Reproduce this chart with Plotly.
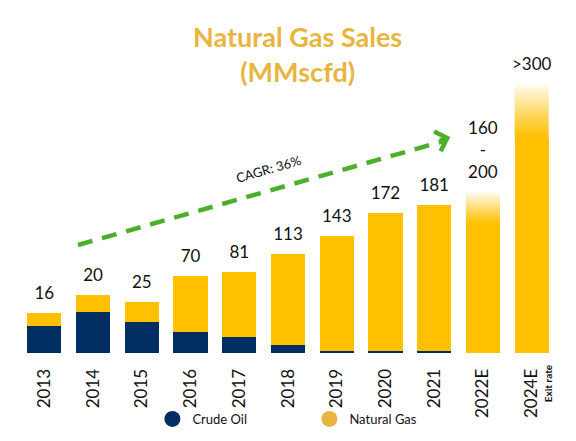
import plotly.graph_objects as go

# categories and labels as printed on the slide
years = ['2013', '2014', '2015', '2016', '2017', '2018', '2019', '2020', '2021', '2022E', '2024E']
labels = ['16', '20', '25', '70', '81', '113', '143', '172', '181', '160<br>-<br>200', '>300']

# drawn bar heights (the slide is not to scale, so these are read off the picture)
oil = [27, 41, 31, 21, 16, 8, 2, 2, 2, 0, 0]
gas = [13, 17, 20, 56, 65, 91, 115, 138, 146, 129, 215]
guidance = [0, 0, 0, 0, 0, 0, 0, 0, 0, 32, 54]   # faded range on top of the estimates

GOLD = '#FFC000'
NAVY = '#002D62'
GREEN = '#4CAF2A'
FONT = 'Lato'
BW = 0.7

xs = list(range(len(years)))
fig = go.Figure()

fig.add_trace(go.Bar(x=xs, y=oil, width=BW, marker_color=NAVY, marker_line_width=0,
                     name='Crude Oil', showlegend=False))
fig.add_trace(go.Bar(x=xs, y=gas, width=BW, marker_color=GOLD, marker_line_width=0,
                     name='Natural Gas', showlegend=False))

# faded guidance boxes for the estimate years
for i, g in enumerate(guidance):
    if g == 0:
        continue
    base = oil[i] + gas[i]
    fig.add_trace(go.Scatter(
        x=[i - BW / 2, i + BW / 2, i + BW / 2, i - BW / 2, i - BW / 2],
        y=[base, base, base + g, base + g, base],
        mode='lines', line_width=0, fill='toself',
        fillgradient=dict(type='vertical',
                          colorscale=[[0, GOLD], [0.35, '#FFD24D'], [1, '#FFFCF2']]),
        hoverinfo='skip', showlegend=False))

# value labels
tops = [o + g + r for o, g, r in zip(oil, gas, guidance)]
fig.add_trace(go.Scatter(x=xs, y=tops, mode='markers+text', text=labels,
                         textposition='top center',
                         marker=dict(size=14, color='rgba(0,0,0,0)'),
                         textfont=dict(family=FONT, size=17, color='#111111'),
                         hoverinfo='skip', showlegend=False, cliponaxis=False))

# legend entries (round markers like the slide)
fig.add_trace(go.Scatter(x=[None], y=[None], mode='markers', name='Crude Oil',
                         marker=dict(symbol='circle', size=16, color=NAVY)))
fig.add_trace(go.Scatter(x=[None], y=[None], mode='markers', name='Natural Gas',
                         marker=dict(symbol='circle', size=16, color='#E8B53F')))

# CAGR arrow
fig.add_shape(type='line', x0=0.69, y0=108, x1=8.2, y1=212,
              line=dict(color=GREEN, width=4.5, dash='15px,10px'))
fig.add_annotation(x=8.33, y=216, ax=-12, ay=4, text='', showarrow=True,
                   arrowhead=4, arrowsize=1, arrowwidth=4, arrowcolor=GREEN, standoff=0)
fig.add_annotation(x=4.59, y=184, text='CAGR: 36%', showarrow=False, textangle=-16,
                   font=dict(family=FONT, size=13, color='#111111'))

fig.add_annotation(x=10.34, y=-0.17, yref='paper', text='<b>Exit rate</b>', showarrow=False,
                   textangle=-90, font=dict(family=FONT, size=10, color='#111111'))

# page body has a small margin, so the figure is a bit smaller than the window
fig.update_layout(
    width=568, height=433,
    margin=dict(l=12, r=20, t=45, b=88, autoexpand=False),
    barmode='stack', bargap=0.3,
    plot_bgcolor='white', paper_bgcolor='white',
    title=dict(text='<b>Natural Gas Sales<br>(MMscfd)</b>', x=0.510, xanchor='center',
               y=0.91, yanchor='middle',
               font=dict(family=FONT, size=27, color='#E8B53F')),
    legend=dict(orientation='h', traceorder='normal', x=0.247, xanchor='left',
                y=-0.22, yanchor='middle', entrywidth=112,
                font=dict(family=FONT, size=13, color='#111111'),
                bgcolor='rgba(0,0,0,0)'),
    xaxis=dict(tickmode='array', tickvals=xs, ticktext=years, tickangle=-90,
               range=[-0.5, len(years) - 0.5], showgrid=False, zeroline=False,
               showline=False, ticks='outside', ticklen=8, tickcolor='white',
               automargin=False,
               tickfont=dict(family=FONT, size=17, color='#111111')),
    yaxis=dict(range=[0, 300], visible=False),
)

fig.write_html('out.html')
